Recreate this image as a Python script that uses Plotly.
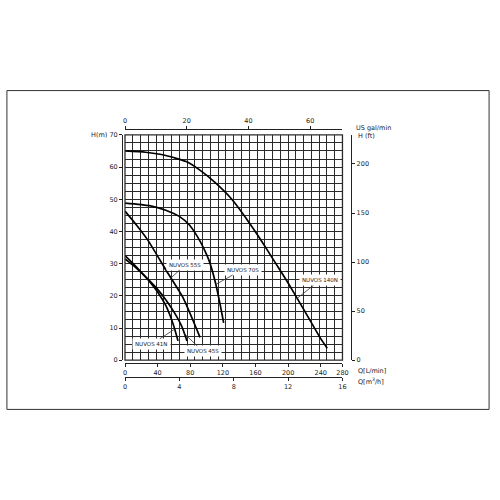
import plotly.graph_objects as go

# ---- data (Q in L/min, H in m) ----
q_140n = [0, 25, 50, 75, 91, 111, 131, 151, 166, 185, 200, 220, 240, 248]
h_140n = [65, 64.6, 63.6, 61.7, 59.2, 55.1, 50, 43.2, 37.6, 30, 24, 15.4, 6.7, 3.7]

q_70s = [0, 30, 50, 67, 79, 89, 97, 103, 111, 117, 121]
h_70s = [48.8, 48, 46.6, 44.6, 42, 38.3, 34.5, 31, 24, 16.9, 11.6]

q_55s = [0, 14, 28, 50, 71, 92]
h_55s = [46.3, 42, 37.3, 28.1, 19.5, 7.1]

q_45s = [0, 10, 20, 30, 40, 50, 60, 70, 76]
h_45s = [31.5, 29.5, 27.2, 24.7, 22, 18.8, 15, 10.3, 6]

q_41n = [0, 10, 20, 30, 40, 50, 60, 65]
h_41n = [32.5, 30, 27.3, 24.5, 21.2, 17, 10.5, 6]

series_names = ["NUVOS 140N", "NUVOS 70S", "NUVOS 55S", "NUVOS 45S", "NUVOS 41N"]

lmin_ticks = [0, 40, 80, 120, 160, 200, 240]
m3h_ticks = [0, 4, 8, 12, 16]
gpm_ticks = [0, 20, 40, 60]
hm_ticks = [0, 10, 20, 30, 40, 50, 60, 70]
hft_ticks = [0, 50, 100, 150, 200]

# label anchor points on curves (Q, H) and offsets
label_pts = {
    "NUVOS 140N": (210, 19.0, 24, -19),
    "NUVOS 70S": (111, 23.5, 27, -15),
    "NUVOS 55S": (56.6, 25.6, 14, -13),
    "NUVOS 45S": (72.5, 8.3, 19, 18),
    "NUVOS 41N": (60.6, 9.6, -23, 15),
}

M3H_MAX = 16
Q_MAX = M3H_MAX * 1000 / 60          # L/min
GPM_MAX = Q_MAX / 3.78541
H_MAX = 70
FT_MAX = H_MAX / 0.3048

FONT = "DejaVu Sans"
TXT = "#222222"
GRID = "#2a2a2a"

fig = go.Figure()
curves = [(q_140n, h_140n), (q_70s, h_70s), (q_55s, h_55s), (q_45s, h_45s), (q_41n, h_41n)]
for name, (q, h) in zip(series_names, curves):
    fig.add_trace(go.Scatter(x=q, y=h, mode="lines", name=name,
                             line=dict(color="black", width=1.7, shape="spline", smoothing=0.5),
                             showlegend=False, hoverinfo="skip"))

# placeholder traces so secondary axes are in use
fig.add_trace(go.Scatter(x=[0], y=[0], xaxis="x2", yaxis="y", mode="markers",
                         marker=dict(opacity=0), showlegend=False, hoverinfo="skip"))
fig.add_trace(go.Scatter(x=[0], y=[0], xaxis="x3", yaxis="y", mode="markers",
                         marker=dict(opacity=0), showlegend=False, hoverinfo="skip"))
fig.add_trace(go.Scatter(x=[0], y=[0], xaxis="x", yaxis="y2", mode="markers",
                         marker=dict(opacity=0), showlegend=False, hoverinfo="skip"))

xd = [0.25, 0.692]
yd = [0.276, 0.734]
tickfont = dict(family=FONT, size=6.5, color=TXT)

common = dict(showline=True, linecolor="#222", linewidth=1, ticks="outside",
              ticklen=3, tickcolor="#222", tickwidth=1, zeroline=False,
              tickfont=tickfont, fixedrange=True)

fig.update_layout(
    width=500, height=500, autosize=False,
    margin=dict(l=0, r=0, t=0, b=0),
    paper_bgcolor="white", plot_bgcolor="white",
    showlegend=False,
    xaxis=dict(domain=xd, range=[0, Q_MAX], anchor="free", position=1 - 365 / 500,
               tickvals=lmin_ticks + [Q_MAX],
               ticktext=[str(v) for v in lmin_ticks] + ["280"],
               showgrid=False,
               minor=dict(dtick=Q_MAX / 28, tick0=0, showgrid=True, gridcolor=GRID,
                          gridwidth=1.1, ticks=""),
               **common),
    xaxis2=dict(domain=xd, range=[0, M3H_MAX], anchor="free", position=1 - 379 / 500,
                overlaying="x", tickvals=m3h_ticks, showgrid=False, **common),
    xaxis3=dict(domain=xd, range=[0, GPM_MAX], anchor="free", position=1 - 127 / 500,
                overlaying="x", side="top", tickvals=gpm_ticks, showgrid=False, **common),
    yaxis=dict(domain=yd, range=[0, H_MAX], anchor="free", position=122 / 500,
               tickvals=hm_ticks,
               ticktext=[str(v) for v in hm_ticks[:-1]] + ["H(m) 70"],
               showgrid=True, gridcolor=GRID, gridwidth=1.1,
               minor=dict(dtick=2.5, tick0=0, showgrid=True, gridcolor=GRID,
                          gridwidth=1.1, ticks=""),
               **common),
    yaxis2=dict(domain=yd, range=[0, FT_MAX], anchor="free", position=355 / 500,
                overlaying="y", side="right", tickvals=hft_ticks, showgrid=False, **common),
)

# plot-area frame
fig.add_shape(type="rect", xref="x domain", yref="y domain", x0=0, x1=1, y0=0, y1=1,
              line=dict(color=GRID, width=1.3), layer="above")
# outer frame
fig.add_shape(type="rect", xref="paper", yref="paper", x0=5 / 500, x1=495 / 500,
              y0=1 - 412 / 500, y1=1 - 88 / 500, line=dict(color="#333", width=1))

# curve labels
for name in series_names:
    qx, hy, ax, ay = label_pts[name]
    fig.add_annotation(x=qx, y=hy, xref="x", yref="y", text=name, showarrow=True,
                       arrowhead=0, arrowwidth=0.8, arrowcolor="#333", ax=ax, ay=ay,
                       bgcolor="white", borderpad=2,
                       font=dict(family=FONT, size=5.5, color=TXT))

# axis titles
axis_titles = [
    ("Q[L/min]", 360, 373),
    ("Q[m<sup>3</sup>/h]", 360, 384),
    ("US gal/min", 358, 126),
    ("H (ft)", 360, 134.5),
]
for t, px, py in axis_titles:
    fig.add_annotation(x=px / 500, y=1 - py / 500, xref="paper", yref="paper", text=t,
                       showarrow=False, xanchor="left", yanchor="middle",
                       font=dict(family=FONT, size=6.5, color=TXT))

fig.write_html("out.html", config={"displayModeBar": False},
               post_script="document.body.style.margin='0';document.body.style.padding='0';")
